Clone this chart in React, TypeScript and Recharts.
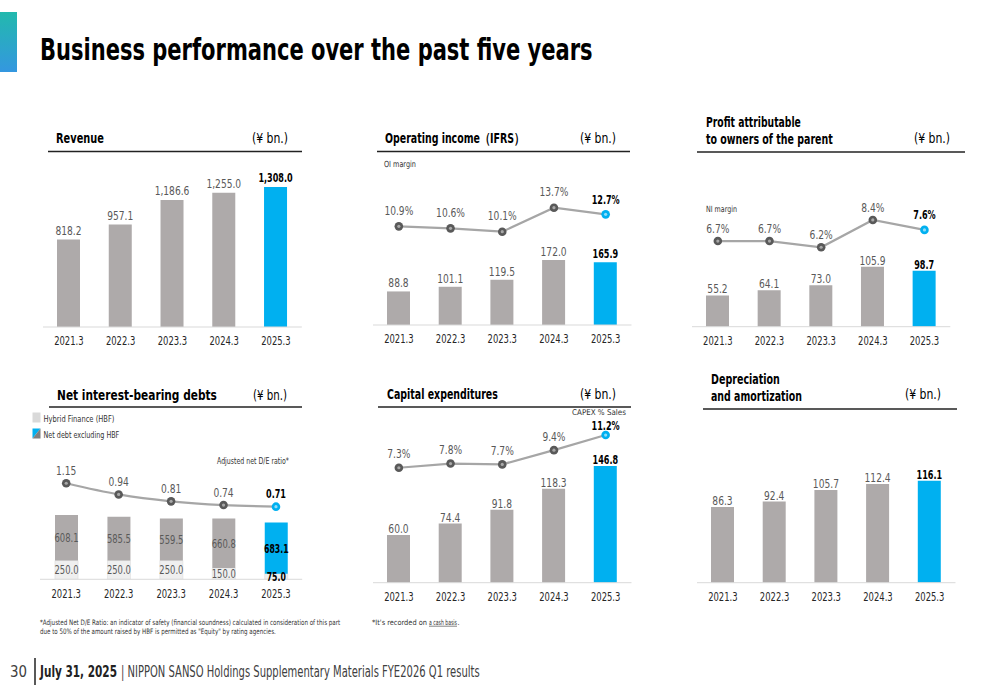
import { ComposedChart, Bar, Line, XAxis, YAxis, Cell, LabelList } from 'recharts';

const YEARS = ['2021.3', '2022.3', '2023.3', '2024.3', '2025.3'];
const REVENUE = [818.2, 957.1, 1186.6, 1255.0, 1308.0];
const OPERATING_INCOME = [88.8, 101.1, 119.5, 172.0, 165.9];
const OI_MARGIN = [10.9, 10.6, 10.1, 13.7, 12.7];
const PROFIT = [55.2, 64.1, 73.0, 105.9, 98.7];
const NI_MARGIN = [6.7, 6.7, 6.2, 8.4, 7.6];
const HBF = [250.0, 250.0, 250.0, 150.0, 75.0];
const NET_DEBT_EX_HBF = [608.1, 585.5, 559.5, 660.8, 683.1];
const DE_RATIO = [1.15, 0.94, 0.81, 0.74, 0.71];
const CAPEX = [60.0, 74.4, 91.8, 118.3, 146.8];
const CAPEX_PCT = [7.3, 7.8, 7.7, 9.4, 11.2];
const DEPRECIATION = [86.3, 92.4, 105.7, 112.4, 116.1];

const FONT = "'DejaVu Sans Condensed', 'DejaVu Sans', sans-serif";
const GRAY = '#aeaaaa';
const BLUE = '#00b0f0';
const LIGHT = '#efefef';
const LABEL = '#595959';
const AXIS_HEIGHT = 30;
const LAST = YEARS.length - 1;

const fmtAmount = (v: number) =>
  v.toLocaleString('en-US', { minimumFractionDigits: 1, maximumFractionDigits: 1 });
const fmtPct = (v: number) => `${v.toFixed(1)}%`;
const fmtRatio = (v: number) => v.toFixed(2);

const measureCtx = document.createElement('canvas').getContext('2d');
const measure = (text: string, size: number, bold?: boolean) => {
  if (!measureCtx) return text.length * size * 0.5;
  measureCtx.font = `${bold ? 'bold ' : ''}${size}px ${FONT}`;
  return measureCtx.measureText(text).width;
};

// the reference uses a condensed face, so DejaVu is squeezed horizontally
function NarrowText({ x, y, size, bold, fill, children }: any) {
  const sx = bold ? 0.72 : 0.78;
  return (
    <text
      transform={`translate(${x} ${y}) scale(${sx} 1)`}
      textAnchor="middle"
      fontFamily={FONT}
      fontSize={size}
      fontWeight={bold ? 700 : 400}
      fill={fill}
    >
      {children}
    </text>
  );
}

const topLabel = (offset: number, fmt: (v: number) => string, lastOffset?: number) => (props: any) => {
  const { x, y, width, value, index } = props;
  const last = index === LAST;
  const off = last && lastOffset !== undefined ? lastOffset : offset;
  return (
    <NarrowText
      x={Number(x) + (Number(width) || 0) / 2}
      y={Number(y) - off}
      size={last ? 12.5 : 13}
      bold={last}
      fill={last ? '#000' : LABEL}
    >
      {fmt(Number(value))}
    </NarrowText>
  );
};

const centerLabel = (props: any) => {
  const { x, y, width, height, value, index } = props;
  const last = index === LAST;
  return (
    <NarrowText
      x={Number(x) + Number(width) / 2}
      y={Number(y) + Number(height) / 2 + 4.5}
      size={12}
      bold={last}
      fill={last ? '#000' : LABEL}
    >
      {fmtAmount(Number(value))}
    </NarrowText>
  );
};

const YearTick = (props: any) => (
  <NarrowText x={props.x} y={Number(props.y) + 12.4} size={12} fill="#262626">
    {props.payload.value}
  </NarrowText>
);

const renderDot = (props: any) => {
  const { cx, cy, index } = props;
  const last = index === LAST;
  return (
    <g key={`dot-${index}`}>
      <circle cx={cx} cy={cy} r={4.3} fill={last ? BLUE : '#595959'} />
      <circle cx={cx} cy={cy} r={1.6} fill={last ? '#8fdcf8' : '#a8a8a8'} />
    </g>
  );
};

const xAxisProps = {
  dataKey: 'year',
  height: AXIS_HEIGHT,
  interval: 0 as const,
  axisLine: { stroke: '#d9d9d9', strokeWidth: 1 },
  tickLine: false,
  tickMargin: 0,
  tick: YearTick,
};

interface ComboPanelProps {
  left: number;
  top: number;
  width: number;
  plotHeight: number;
  bars: number[];
  barMax: number;
  barOffset: number;
  line?: number[];
  lineDomain?: [number, number];
  lineOffset?: number;
  lastLineOffset?: number;
}

function ComboPanel({
  left,
  top,
  width,
  plotHeight,
  bars,
  barMax,
  barOffset,
  line,
  lineDomain,
  lineOffset = 9,
  lastLineOffset,
}: ComboPanelProps) {
  const data = YEARS.map((year, i) => ({ year, value: bars[i], ratio: line ? line[i] : null }));
  return (
    <div style={{ position: 'absolute', left, top }}>
      <ComposedChart width={width} height={plotHeight + AXIS_HEIGHT} data={data} margin={{ top: 0, right: 0, bottom: 0, left: 0 }}>
        <XAxis {...xAxisProps} />
        <YAxis yAxisId="bar" hide domain={[0, barMax]} allowDataOverflow />
        <YAxis yAxisId="line" hide domain={lineDomain ?? [0, 1]} allowDataOverflow />
        <Bar yAxisId="bar" dataKey="value" barSize={23} isAnimationActive={false}>
          {data.map((_, i) => (
            <Cell key={`cell-${i}`} fill={i === LAST ? BLUE : GRAY} />
          ))}
          <LabelList dataKey="value" content={topLabel(barOffset, fmtAmount)} />
        </Bar>
        {line && (
          <Line
            yAxisId="line"
            dataKey="ratio"
            stroke="#a6a6a6"
            strokeWidth={2.2}
            dot={renderDot}
            activeDot={false}
            isAnimationActive={false}
          >
            <LabelList dataKey="ratio" content={topLabel(lineOffset, fmtPct, lastLineOffset)} />
          </Line>
        )}
      </ComposedChart>
    </div>
  );
}

function DebtPanel() {
  const data = YEARS.map((year, i) => ({ year, hbf: HBF[i], net: NET_DEBT_EX_HBF[i], ratio: DE_RATIO[i] }));
  return (
    <div style={{ position: 'absolute', left: 39.5, top: 450 }}>
      <ComposedChart width={262.2} height={129.3 + AXIS_HEIGHT} data={data} margin={{ top: 0, right: 0, bottom: 0, left: 0 }}>
        <XAxis {...xAxisProps} />
        <YAxis yAxisId="bar" hide domain={[0, 1724]} allowDataOverflow />
        <YAxis yAxisId="line" hide domain={[-0.655, 1.775]} allowDataOverflow />
        <Bar
          yAxisId="bar"
          dataKey="hbf"
          stackId="debt"
          fill={LIGHT}
          stroke="#e2e2e2"
          strokeWidth={0.8}
          barSize={23}
          isAnimationActive={false}
        >
          <LabelList dataKey="hbf" content={centerLabel} />
        </Bar>
        <Bar yAxisId="bar" dataKey="net" stackId="debt" barSize={23} isAnimationActive={false}>
          {data.map((_, i) => (
            <Cell key={`cell-${i}`} fill={i === LAST ? BLUE : GRAY} />
          ))}
          <LabelList dataKey="net" content={centerLabel} />
        </Bar>
        <Line
          yAxisId="line"
          type="monotone"
          dataKey="ratio"
          stroke="#a6a6a6"
          strokeWidth={2.2}
          dot={renderDot}
          activeDot={false}
          isAnimationActive={false}
        >
          <LabelList dataKey="ratio" content={topLabel(8.5, fmtRatio)} />
        </Line>
      </ComposedChart>
    </div>
  );
}

interface TxtProps {
  x: number;
  y: number;
  size: number;
  bold?: boolean;
  width?: number;
  fill?: string;
  children: string;
}

// text squeezed to the width it takes in the reference
function Txt({ x, y, size, bold, width, fill = '#000', children }: TxtProps) {
  const sx = width ? width / measure(children, size, bold) : 1;
  return (
    <text
      transform={`translate(${x} ${y}) scale(${sx.toFixed(4)} 1)`}
      fontSize={size}
      fontWeight={bold ? 700 : 400}
      fill={fill}
      fontFamily={FONT}
    >
      {children}
    </text>
  );
}

function Frame() {
  return (
    <svg width={1000} height={685} style={{ position: 'absolute', left: 0, top: 0 }}>
      <defs>
        <linearGradient id="accent" x1="0" y1="0" x2="0" y2="1">
          <stop offset="0%" stopColor="#22b9ad" />
          <stop offset="100%" stopColor="#3497e0" />
        </linearGradient>
      </defs>
      <rect x={0} y={12} width={17} height={60} fill="url(#accent)" />
      <Txt x={40} y={60} size={30} bold width={553}>Business performance over the past five years</Txt>

      {/* top row headers */}
      <Txt x={56} y={143} size={14} bold width={48}>Revenue</Txt>
      <Txt x={252} y={143} size={14} width={36}>(¥ bn.)</Txt>
      <line x1={48} x2={302} y1={151.5} y2={151.5} stroke="#222" strokeWidth={1.6} />

      <Txt x={385} y={143} size={14} bold width={140}>Operating income（IFRS）</Txt>
      <Txt x={580} y={143} size={14} width={36}>(¥ bn.)</Txt>
      <line x1={377} x2={630} y1={151.5} y2={151.5} stroke="#222" strokeWidth={1.6} />
      <Txt x={384} y={167} size={8.5} width={32} fill="#333">OI margin</Txt>

      <Txt x={706} y={127} size={14} bold width={95}>Profit attributable</Txt>
      <Txt x={706} y={144} size={14} bold width={127}>to owners of the parent</Txt>
      <Txt x={914} y={143} size={14} width={36}>(¥ bn.)</Txt>
      <line x1={697} x2={965} y1={152} y2={152} stroke="#222" strokeWidth={1.6} />
      <Txt x={706} y={212} size={8.5} width={31} fill="#333">NI margin</Txt>

      {/* bottom row headers */}
      <Txt x={57} y={400} size={14} bold width={160}>Net interest-bearing debts</Txt>
      <Txt x={253} y={400} size={14} width={34}>(¥ bn.)</Txt>
      <line x1={49} x2={302} y1={407} y2={407} stroke="#222" strokeWidth={1.6} />
      <rect x={32.5} y={412.5} width={8} height={10} fill="#d9d9d9" />
      <Txt x={43.5} y={421.5} size={9} width={71} fill="#333">Hybrid Finance (HBF)</Txt>
      <polygon points="32.5,428.5 40.5,428.5 32.5,438.5" fill={BLUE} />
      <polygon points="40.5,428.5 40.5,438.5 32.5,438.5" fill="#7f7f7f" />
      <Txt x={43.5} y={437.5} size={9} width={76} fill="#333">Net debt excluding HBF</Txt>
      <Txt x={217} y={464} size={9} width={72} fill="#333">Adjusted net D/E ratio*</Txt>

      <Txt x={387} y={399} size={14} bold width={111}>Capital expenditures</Txt>
      <Txt x={580} y={399} size={14} width={36}>(¥ bn.)</Txt>
      <line x1={378} x2={631} y1={407} y2={407} stroke="#222" strokeWidth={1.6} />
      <Txt x={572} y={414.5} size={8} width={54} fill="#333">CAPEX % Sales</Txt>

      <Txt x={711} y={384} size={14} bold width={69}>Depreciation</Txt>
      <Txt x={711} y={401} size={14} bold width={91}>and amortization</Txt>
      <Txt x={905} y={399} size={14} width={36}>(¥ bn.)</Txt>
      <line x1={703} x2={957} y1={409} y2={409} stroke="#222" strokeWidth={1.6} />

      {/* footnotes */}
      <Txt x={40} y={624.5} size={7.5} width={301} fill="#333">
        *Adjusted Net D/E Ratio: an indicator of safety (financial soundness) calculated in consideration of this part
      </Txt>
      <Txt x={40} y={634} size={7.5} width={236} fill="#333">
        due to 50% of the amount raised by HBF is permitted as "Equity" by rating agencies.
      </Txt>
      <Txt x={372} y={624.5} size={7.5} width={55} fill="#333">*It's recorded on</Txt>
      <Txt x={429} y={624.5} size={7.5} width={28} fill="#333">a cash basis</Txt>
      <line x1={429} x2={457} y1={626.2} y2={626.2} stroke="#333" strokeWidth={0.6} />
      <Txt x={457.5} y={624.5} size={7.5} width={2} fill="#333">.</Txt>

      {/* footer */}
      <Txt x={10} y={677} size={15} width={17} fill="#404040">30</Txt>
      <line x1={35} x2={35} y1={658} y2={685} stroke="#222" strokeWidth={1.5} />
      <Txt x={40} y={677} size={15} bold width={77} fill="#222">July 31, 2025</Txt>
      <Txt x={121} y={677} size={15} width={359} fill="#404040">
        | NIPPON SANSO Holdings Supplementary Materials FYE2026 Q1 results
      </Txt>
    </svg>
  );
}

export default function App() {
  return (
    <div
      style={{
        position: 'absolute',
        left: 0,
        top: 0,
        width: 1000,
        height: 685,
        background: '#fff',
        overflow: 'hidden',
        fontFamily: FONT,
      }}
    >
      <style>{'.recharts-surface { overflow: visible; }'}</style>
      <Frame />
      <ComboPanel left={43.1} top={160} width={258.8} plotHeight={167} bars={REVENUE} barMax={1560} barOffset={4.5} />
      <ComboPanel
        left={372.9}
        top={150}
        width={258.5}
        plotHeight={175}
        bars={OPERATING_INCOME}
        barMax={463}
        barOffset={4}
        line={OI_MARGIN}
        lineDomain={[-3.89, 22.35]}
        lineOffset={11.5}
        lastLineOffset={10}
      />
      <ComboPanel
        left={692.2}
        top={160}
        width={258.3}
        plotHeight={166.7}
        bars={PROFIT}
        barMax={294}
        barOffset={2}
        line={NI_MARGIN}
        lineDomain={[-0.2, 13.23]}
        lineOffset={8}
        lastLineOffset={11}
      />
      <DebtPanel />
      <ComboPanel
        left={372.9}
        top={400}
        width={258.5}
        plotHeight={182.7}
        bars={CAPEX}
        barMax={229.8}
        barOffset={2}
        line={CAPEX_PCT}
        lineDomain={[-6.41, 15.38]}
        lineOffset={9.5}
        lastLineOffset={5.5}
      />
      <ComboPanel left={697} top={430} width={258.5} plotHeight={152.7} bars={DEPRECIATION} barMax={173.9} barOffset={2} />
    </div>
  );
}
